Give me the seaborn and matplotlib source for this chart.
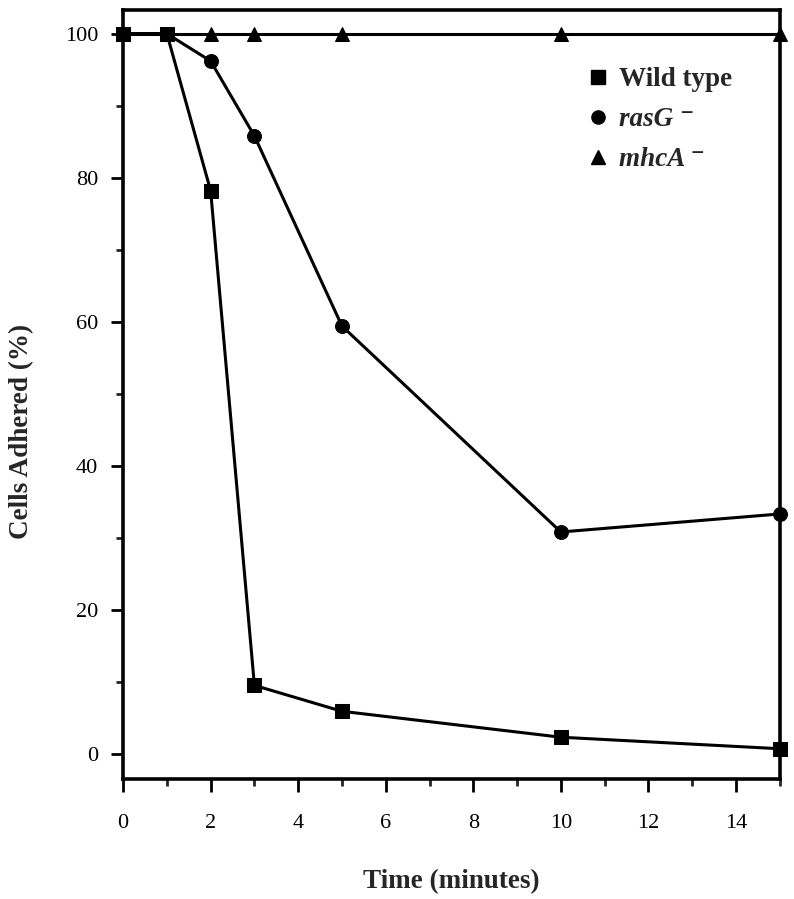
import matplotlib
matplotlib.use("Agg")
import matplotlib.pyplot as plt
import pandas as pd
import seaborn as sns
from matplotlib.lines import Line2D
from matplotlib.ticker import MultipleLocator

# values
TIME = [0, 1, 2, 3, 5, 10, 15]
WILD_TYPE = [100, 100, 78.2, 9.5, 5.9, 2.3, 0.7]
RASG = [100, 100, 96.2, 85.8, 59.4, 30.8, 33.3]
MHCA = [100, 100, 100, 100, 100, 100, 100]
STRAINS = ["mhcA", "rasG", "Wild type"]
MARKERS = {"Wild type": "s", "rasG": "o", "mhcA": "^"}
LEGEND_LABELS = ["Wild type", "rasG \u207b", "mhcA \u207b"]


def main():
    df = pd.concat(
        [
            pd.DataFrame({"time": TIME, "adhered": MHCA, "strain": "mhcA"}),
            pd.DataFrame({"time": TIME, "adhered": RASG, "strain": "rasG"}),
            pd.DataFrame({"time": TIME, "adhered": WILD_TYPE, "strain": "Wild type"}),
        ],
        ignore_index=True,
    )

    sns.set_theme(style="ticks")
    plt.rcParams["font.family"] = ["Liberation Serif", "DejaVu Serif"]

    fig = plt.figure(figsize=(7.94, 8.99), dpi=100)
    ax = fig.add_axes([0.155, 0.1335, 0.827, 0.8555])

    sizes = {"Wild type": 9.5, "rasG": 10, "mhcA": 9.5}
    for strain in STRAINS:
        sub = df[df["strain"] == strain]
        sns.lineplot(
            data=sub,
            x="time",
            y="adhered",
            color="black",
            marker=MARKERS[strain],
            markersize=sizes[strain],
            markeredgecolor="black",
            linewidth=2.2,
            ax=ax,
            clip_on=False,
            legend=False,
        )

    ax.set_xlim(0, 15)
    ax.set_ylim(-3.5, 103.3)
    ax.xaxis.set_major_locator(MultipleLocator(2))
    ax.xaxis.set_minor_locator(MultipleLocator(1))
    ax.yaxis.set_major_locator(MultipleLocator(20))
    ax.yaxis.set_minor_locator(MultipleLocator(10))
    ax.set_yticks(range(0, 101, 20))

    for side in ["left", "right", "top", "bottom"]:
        ax.spines[side].set_linewidth(2.6)
        ax.spines[side].set_color("black")
    ax.tick_params(which="major", length=9, width=2, direction="out",
                   labelsize=16, colors="black")
    ax.tick_params(axis="x", which="major", pad=16)
    ax.tick_params(axis="y", which="major", pad=9)
    ax.tick_params(which="minor", length=5, width=2, direction="out")

    ax.set_xlabel("Time (minutes)", fontsize=19.5, fontweight="bold", labelpad=26)
    ax.set_ylabel("Cells Adhered (%)", fontsize=19.5, fontweight="bold")
    ax.yaxis.set_label_coords(-0.136, 0.4525)

    handles = [
        Line2D([], [], color="black", marker=MARKERS[s], linestyle="none", markersize=9.5)
        for s in ["Wild type", "rasG", "mhcA"]
    ]
    leg = ax.legend(
        handles,
        LEGEND_LABELS,
        loc="upper left",
        bbox_to_anchor=(0.667, 0.957),
        frameon=False,
        handlelength=0.9,
        handletextpad=0.35,
        labelspacing=0.55,
        prop={"size": 19.5, "weight": "bold"},
    )
    for t in leg.get_texts()[1:]:
        t.set_fontstyle("italic")

    fig.savefig("out.png", dpi=100)


if __name__ == "__main__":
    main()
